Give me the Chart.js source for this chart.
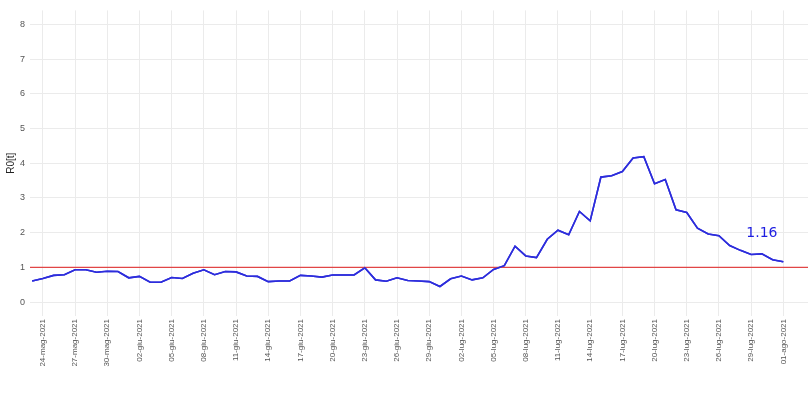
<!DOCTYPE html>
<html>
<head>
<meta charset="utf-8">
<script src="https://cdn.jsdelivr.net/npm/chart.js@4/dist/chart.umd.min.js"></script>
<style>
  body { margin: 0; background: #fff; }
  #wrap { width: 810px; height: 394px; }
</style>
</head>
<body>
<div id="wrap"><canvas id="chart"></canvas></div>
<script>
// R0(t) giornaliero, dal 23-mag-2021 (giorno 0) al 01-ago-2021 (giorno 70)
const rtValues = [
  0.61, 0.68, 0.77, 0.79, 0.93, 0.93, 0.86, 0.89, 0.88, 0.70,
  0.74, 0.57, 0.57, 0.71, 0.68, 0.83, 0.93, 0.79, 0.88, 0.87,
  0.75, 0.74, 0.59, 0.61, 0.61, 0.77, 0.75, 0.72, 0.78, 0.78,
  0.78, 0.99, 0.64, 0.60, 0.70, 0.62, 0.61, 0.59, 0.45, 0.67,
  0.75, 0.64, 0.70, 0.94, 1.05, 1.61, 1.33, 1.28, 1.81, 2.07,
  1.94, 2.61, 2.34, 3.60, 3.64, 3.76, 4.15, 4.19, 3.41, 3.53,
  2.66, 2.58, 2.13, 1.96, 1.91, 1.63, 1.49, 1.37, 1.39, 1.22,
  1.16
];

// etichette dell'asse x (ogni 3 giorni) e relativo giorno
const tickLabels = [
  '24-mag-2021', '27-mag-2021', '30-mag-2021', '02-giu-2021', '05-giu-2021',
  '08-giu-2021', '11-giu-2021', '14-giu-2021', '17-giu-2021', '20-giu-2021',
  '23-giu-2021', '26-giu-2021', '29-giu-2021', '02-lug-2021', '05-lug-2021',
  '08-lug-2021', '11-lug-2021', '14-lug-2021', '17-lug-2021', '20-lug-2021',
  '23-lug-2021', '26-lug-2021', '29-lug-2021', '01-ago-2021'
];
const tickDays = [1, 4, 7, 10, 13, 16, 19, 22, 25, 28, 31, 34, 37, 40, 43, 46, 49, 52, 55, 58, 61, 64, 67, 70];

const yTicks = [0, 1, 2, 3, 4, 5, 6, 7, 8];
const refLevel = 1;          // soglia R = 1
const lastLabel = '1.16';    // valore finale scritto sul grafico
const lastLabelAt = { x: 68, y: 1.98 };

const points = rtValues.map((v, i) => ({ x: i, y: v }));

// linea rossa a R = 1 e testo del valore finale
const extras = {
  id: 'extras',
  afterDatasetsDraw(chart) {
    const { ctx, chartArea, scales } = chart;
    const y = scales.y.getPixelForValue(refLevel);
    ctx.save();
    ctx.strokeStyle = 'rgb(225,70,70)';
    ctx.lineWidth = 1.2;
    ctx.beginPath();
    ctx.moveTo(chartArea.left, y);
    ctx.lineTo(chartArea.right, y);
    ctx.stroke();
    ctx.restore();

    // ridisegno la curva sopra la linea rossa
    chart.getDatasetMeta(0).dataset.draw(ctx, chartArea);

    ctx.save();
    ctx.fillStyle = 'rgb(30,30,225)';
    ctx.font = '14px "DejaVu Sans"';
    ctx.textAlign = 'center';
    ctx.textBaseline = 'middle';
    ctx.fillText(lastLabel, scales.x.getPixelForValue(lastLabelAt.x), scales.y.getPixelForValue(lastLabelAt.y));
    ctx.restore();
  }
};

new Chart(document.getElementById('chart'), {
  type: 'line',
  data: {
    datasets: [{
      data: points,
      borderColor: 'rgb(45,45,220)',
      borderWidth: 1.6,
      pointRadius: 0,
      tension: 0,
      fill: false
    }]
  },
  options: {
    responsive: true,
    maintainAspectRatio: false,
    animation: false,
    layout: { padding: { top: 5, right: 2, left: 0, bottom: 0 } },
    plugins: {
      legend: { display: false },
      tooltip: { enabled: false }
    },
    scales: {
      x: {
        type: 'linear',
        min: -0.2,
        max: 72.3,
        grid: { color: '#ebebeb', lineWidth: 1, drawTicks: false },
        border: { display: false },
        afterBuildTicks: (scale) => { scale.ticks = tickDays.map(v => ({ value: v })); },
        afterFit: (scale) => { scale.height = 78; },
        ticks: {
          autoSkip: false,
          minRotation: 90,
          maxRotation: 90,
          padding: 3,
          color: '#555',
          font: { family: 'Liberation Sans, Arial', size: 8 },
          callback: (v) => tickLabels[tickDays.indexOf(v)]
        }
      },
      y: {
        min: -0.4,
        max: 8.4,
        grid: { color: '#ebebeb', lineWidth: 1, drawTicks: false },
        border: { display: false },
        afterBuildTicks: (scale) => { scale.ticks = yTicks.map(v => ({ value: v })); },
        afterFit: (scale) => { scale.width = 30; },
        ticks: {
          padding: 5,
          color: '#555',
          font: { family: 'Liberation Sans, Arial', size: 9 }
        },
        title: {
          display: true,
          text: 'R0[t]',
          color: '#222',
          padding: { top: 5, bottom: 0 },
          font: { family: 'Liberation Sans, Arial', size: 10 }
        }
      }
    }
  },
  plugins: [extras]
});
</script>
</body>
</html>
